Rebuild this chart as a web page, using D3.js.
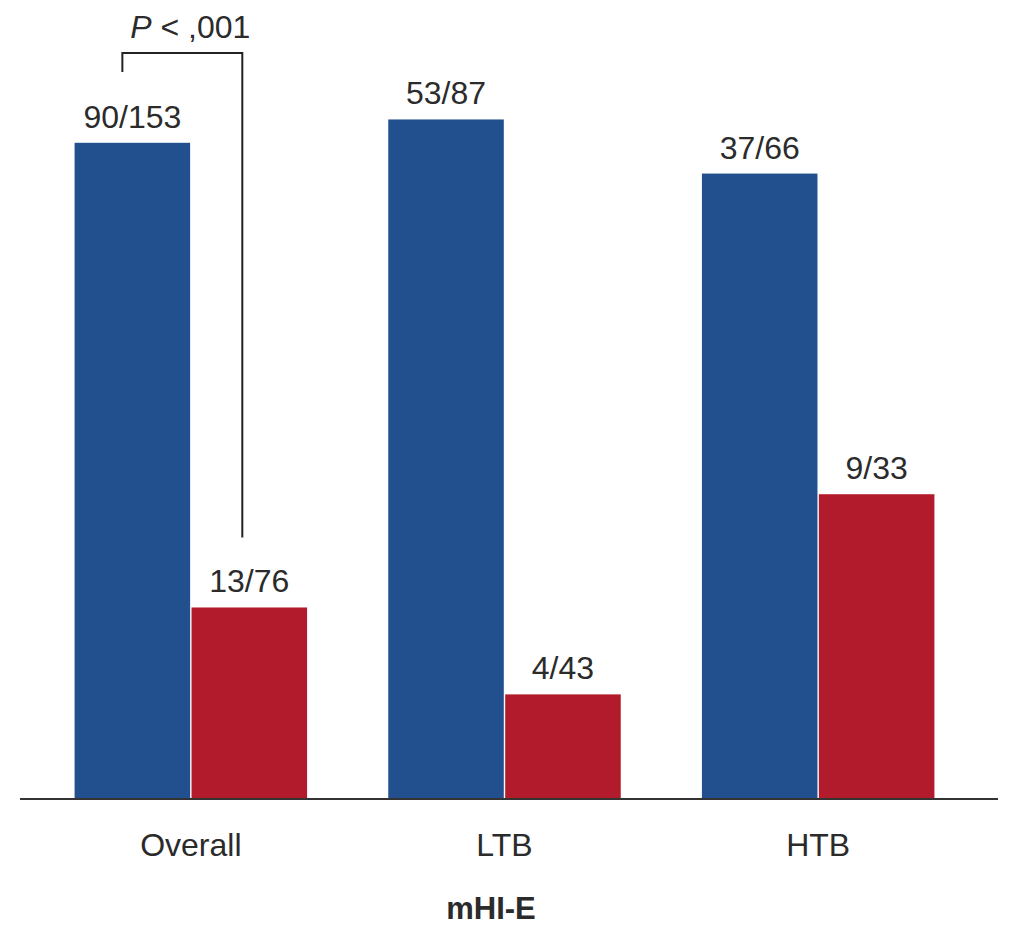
<!DOCTYPE html>
<html>
<head>
<meta charset="utf-8">
<script src="https://cdn.jsdelivr.net/npm/d3@7"></script>
<style>
  body { margin: 0; background: #fff; }
  text { font-family: "Liberation Sans", Arial, sans-serif; fill: #2b2b2b; }
</style>
</head>
<body>
<script>
// groups on the x axis
var groups = ["Overall", "LTB", "HTB"];
var series = ["yes", "no"];
// counts shown above bars (n / N)
var blueN = [90, 53, 37], blueTotal = [153, 87, 66];
var redN = [13, 4, 9], redTotal = [76, 43, 33];
var xTitle = "mHI-E";
var pLabel = ",001";

var width = 1012, height = 928;
var colors = { yes: "#22508f", no: "#b11b2b" };

// build rows, value is a percentage
var rows = groups.map(function(g, i) {
  return {
    group: g,
    bars: [
      { key: "yes", n: blueN[i], total: blueTotal[i], pct: 100 * blueN[i] / blueTotal[i] },
      { key: "no", n: redN[i], total: redTotal[i], pct: 100 * redN[i] / redTotal[i] }
    ]
  };
});

var svg = d3.select("body").append("svg")
    .attr("width", width)
    .attr("height", height);

var x0 = d3.scaleBand().domain(groups).range([34, 975]);
var x1 = d3.scaleBand().domain(series)
    .range([0, x0.bandwidth()])
    .paddingInner(0.012)
    .paddingOuter(0.347);
var y = d3.scaleLinear().domain([0, 65]).range([798, 74]);

var g = svg.selectAll("g.grp")
    .data(rows)
    .enter().append("g")
    .attr("class", "grp")
    .attr("transform", function(d) { return "translate(" + x0(d.group) + ",0)"; });

g.selectAll("rect")
    .data(function(d) { return d.bars; })
    .enter().append("rect")
    .attr("x", function(d) { return x1(d.key); })
    .attr("y", function(d) { return y(d.pct); })
    .attr("width", x1.bandwidth())
    .attr("height", function(d) { return y(0) - y(d.pct); })
    .attr("fill", function(d) { return colors[d.key]; });

g.selectAll("text.val")
    .data(function(d) { return d.bars; })
    .enter().append("text")
    .attr("class", "val")
    .attr("x", function(d) { return x1(d.key) + x1.bandwidth() / 2; })
    .attr("y", function(d) { return y(d.pct) - 15; })
    .attr("text-anchor", "middle")
    .style("font-size", "32px")
    .text(function(d) { return d.n + "/" + d.total; });

// baseline
svg.append("line")
    .attr("x1", 20).attr("x2", 998)
    .attr("y1", y(0) + 1).attr("y2", y(0) + 1)
    .attr("stroke", "#333")
    .attr("stroke-width", 2);

// category labels
var xAxis = d3.axisBottom(x0).tickSize(0).tickPadding(35);
var ax = svg.append("g")
    .attr("transform", "translate(0," + y(0) + ")")
    .call(xAxis);
ax.select(".domain").remove();
ax.selectAll("text")
    .style("font-size", "32px")
    .attr("fill", "#2b2b2b");

svg.append("text")
    .attr("x", 491)
    .attr("y", 919)
    .attr("text-anchor", "middle")
    .style("font-size", "31px")
    .style("font-weight", "bold")
    .text(xTitle);

// significance bracket over Overall
var ov = rows[0];
var lx = x0(ov.group) + x1("yes") + x1.bandwidth() / 2 - 10;
var rx = x0(ov.group) + x1("no") + x1.bandwidth() / 2 - 7;
var topY = 53;
svg.append("path")
    .attr("d", "M" + lx + "," + 72 + "V" + topY + "H" + rx + "V" + (y(ov.bars[1].pct) - 70))
    .attr("fill", "none")
    .attr("stroke", "#222")
    .attr("stroke-width", 2);

var pt = svg.append("text")
    .attr("x", (lx + rx) / 2 + 8)
    .attr("y", 38)
    .attr("text-anchor", "middle")
    .style("font-size", "32px");
pt.append("tspan").style("font-style", "italic").text("P");
pt.append("tspan").text(" < " + pLabel);
</script>
</body>
</html>
